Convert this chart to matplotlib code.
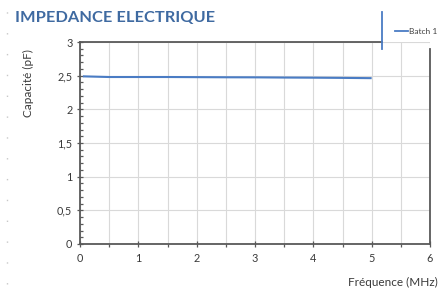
import matplotlib
matplotlib.use("Agg")
import matplotlib.pyplot as plt
from matplotlib.lines import Line2D
from matplotlib.ticker import MultipleLocator, FuncFormatter

plt.rcParams['font.family'] = ['Lato', 'DejaVu Sans']

# data
freq = [0.05, 0.5, 1.0, 1.5, 2.0, 2.5, 3.0, 3.5, 4.0, 4.5, 5.0]
capa = [2.49, 2.48, 2.48, 2.48, 2.478, 2.476, 2.475, 2.472, 2.47, 2.467, 2.463]
series_name = "Batch 1"
title = "IMPEDANCE ELECTRIQUE"

blue = "#4a7cc4"
dark = "#595959"

fig = plt.figure(figsize=(4.46, 2.9), dpi=100)
ax = fig.add_axes([80/446, 1-244/290, 350/446, 202/290])

ax.plot(freq, capa, color=blue, lw=1.5, solid_capstyle='butt', zorder=3)

ax.set_xlim(0, 6)
ax.set_ylim(0, 3)
ax.xaxis.set_major_locator(MultipleLocator(1))
ax.xaxis.set_minor_locator(MultipleLocator(0.5))
ax.yaxis.set_major_locator(MultipleLocator(0.5))
ax.yaxis.set_minor_locator(MultipleLocator(0.1))
ax.yaxis.set_major_formatter(FuncFormatter(lambda v, p: f"{v:g}".replace('.', ',')))

ax.grid(True, which='major', axis='y', color='#d9d9d9', lw=0.8)
ax.xaxis.grid(True, which='both', color='#d9d9d9', lw=0.8)
ax.set_axisbelow(True)

ax.tick_params(axis='both', which='major', direction='inout', length=5, width=0.9,
               color=dark, labelsize=7.8, labelcolor='#3a3a3a')
ax.tick_params(axis='x', which='major', pad=4)
ax.tick_params(axis='y', which='major', pad=3)
ax.tick_params(axis='x', which='minor', direction='out', length=2.5, width=0.9, color=dark)
ax.tick_params(axis='y', which='minor', direction='in', length=2.5, width=0.9, color=dark)

for s in ['left', 'bottom']:
    ax.spines[s].set_color(dark)
    ax.spines[s].set_linewidth(1.3)
ax.spines['top'].set_visible(False)
ax.spines['right'].set_visible(False)

# odd top and right frame pieces as in the original
ax.add_line(Line2D([0, 5.18], [3, 3], color=dark, lw=1.3, clip_on=False))
ax.add_line(Line2D([6, 6], [0, 2.9], color=dark, lw=1.3, clip_on=False))
ax.add_line(Line2D([5.18, 5.18], [2.9, 3.45], color=blue, lw=1.3, clip_on=False))

# legend
fig.add_artist(Line2D([395/446, 408/446], [1-31/290, 1-31/290], color=blue, lw=1.3))
fig.text(409/446, 1-31/290, series_name, fontsize=6, color='#404040', va='center')

fig.text(15/446, 1-18/290, title, fontsize=11.8, fontweight='bold', color='#3f6aa1', va='center')
fig.text(28/446, 1-83/290, "Capacité (pF)", fontsize=8.5, color='#3a3a3a',
         rotation=90, ha='center', va='center')
fig.text(348/446, 1-282/290, "Fréquence (MHz)", fontsize=8.5, color='#3a3a3a',
         ha='left', va='center')

# dotted margin on the left
fig.add_artist(Line2D([7/446, 7/446], [0.02, 0.98], color='#c8c8c8', lw=1,
                      linestyle=(0, (1, 14))))

fig.savefig("out.png", dpi=100)
